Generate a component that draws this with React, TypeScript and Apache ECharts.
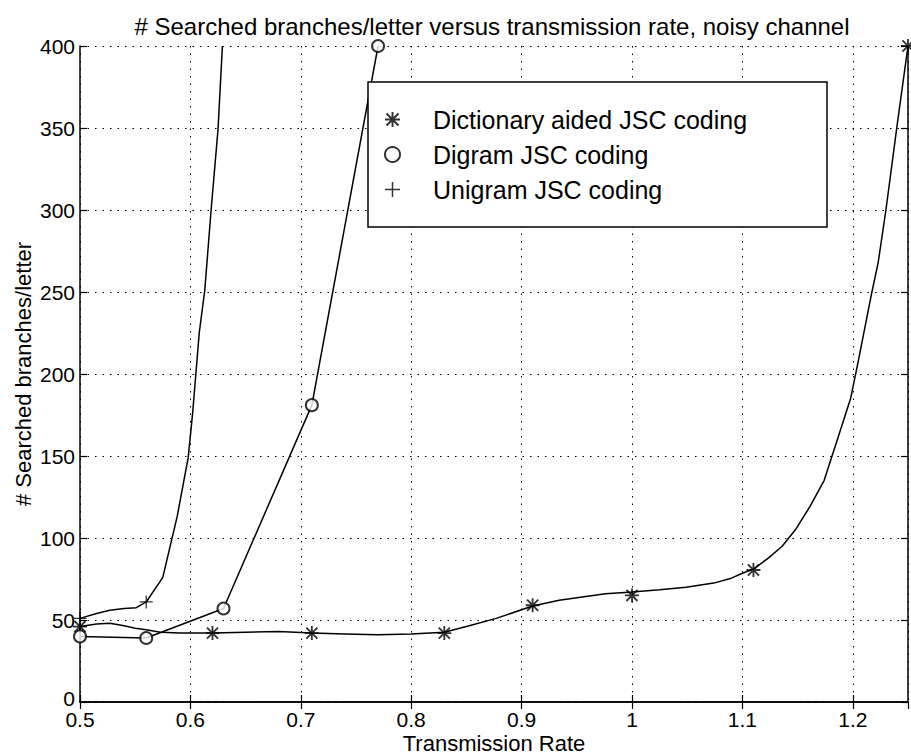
import React, { useEffect, useRef } from "react";
import * as echarts from "echarts";

const FONT = '"Liberation Sans", Arial, Helvetica, sans-serif';

// Measured points (markers) for each coding scheme
const dictRate = [0.5, 0.62, 0.71, 0.83, 0.91, 1.0, 1.11, 1.25];
const dictBranches = [46, 42, 42, 42, 59, 65, 80.5, 400];

const digramRate = [0.5, 0.56, 0.63, 0.71, 0.77];
const digramBranches = [40, 39, 57, 181, 400];

const unigramRate = [0.5, 0.56];
const unigramBranches = [51, 61];

// Fitted curves drawn through the measurements
const dictCurveRate = [
  0.5, 0.515, 0.527, 0.54, 0.55, 0.56, 0.573, 0.59, 0.62, 0.65, 0.68, 0.71,
  0.74, 0.77, 0.8, 0.83, 0.85, 0.877, 0.91, 0.934, 0.955, 0.976, 1.0, 1.025,
  1.049, 1.074, 1.09, 1.1, 1.11, 1.124, 1.136, 1.148, 1.161, 1.174, 1.187,
  1.198, 1.205, 1.217, 1.223, 1.23, 1.24, 1.25,
];
const dictCurveBranches = [
  46, 47.5, 48, 46.5, 45, 44, 42.5, 42, 42, 42.5, 43, 42, 41.5, 41, 41.5,
  42.5, 46, 51, 58.5, 62, 64, 66, 67, 68.5, 70, 72.5, 75.5, 78.5, 81, 88, 95,
  105, 119, 135, 162, 185, 208, 249, 268, 300, 351, 400,
];

const unigramCurveRate = [
  0.5, 0.515, 0.527, 0.54, 0.551, 0.56, 0.575, 0.588, 0.598, 0.602, 0.608,
  0.613, 0.619, 0.625, 0.629,
];
const unigramCurveBranches = [
  51, 54, 56, 57, 57.5, 61, 76, 113, 149, 176, 225, 251, 302, 349, 400,
];

const xTicks = { min: 0.5, max: 1.25, interval: 0.1 };
const yTicks = { min: 0, max: 400, interval: 50 };

const NAMES = [
  "Dictionary aided JSC coding",
  "Digram JSC coding",
  "Unigram JSC coding",
];

// Marker glyphs (filled outlines so they render as solid strokes)
const ASTERISK =
  "path://M8.7,0H11.3V20H8.7Z M0,8.7H20V11.3H0Z M1.1,3L3,1.1L18.9,17L17,18.9Z M17,1.1L18.9,3L3,18.9L1.1,17Z";
const PLUS = "path://M9,0H11V9H20V11H11V20H9V11H0V9H9Z";

const zip = (xs: number[], ys: number[]) => xs.map((x, i) => [x, ys[i]]);

export default function App() {
  const ref = useRef<HTMLDivElement>(null);

  useEffect(() => {
    if (!ref.current) return;
    const chart = echarts.init(ref.current, undefined, { renderer: "svg" });

    const axisLine = { show: true, lineStyle: { color: "#000", width: 1.5 } };
    const tick = { show: true, inside: true, length: 7, lineStyle: { color: "#000", width: 1.2 } };
    const grid = {
      show: true,
      lineStyle: { color: "#000", width: 1, type: [1.5, 6] as any },
    };
    const labelStyle = { color: "#000", fontSize: 21, fontFamily: FONT };
    const nameStyle = { color: "#000", fontSize: 22, fontFamily: FONT };

    chart.setOption({
      animation: false,
      backgroundColor: "#fff",
      title: {
        text: "# Searched branches/letter versus transmission rate, noisy channel",
        left: 487,
        top: 9,
        textAlign: "center",
        textStyle: { color: "#000", fontSize: 24, fontWeight: "normal", fontFamily: FONT },
      },
      grid: { left: 80, right: 3, top: 46, bottom: 53, outerBoundsMode: "none" },
      xAxis: [
        {
          type: "value",
          ...xTicks,
          name: "Transmission Rate",
          nameLocation: "middle",
          nameGap: 30,
          nameMoveOverlap: false,
          nameTextStyle: nameStyle,
          axisLine,
          axisTick: tick,
          axisLabel: { ...labelStyle, margin: 8, lineHeight: 18, showMaxLabel: false },
          splitLine: grid,
        },
        {
          type: "value",
          ...xTicks,
          position: "top",
          axisLine,
          axisTick: tick,
          axisLabel: { show: false },
          splitLine: { show: false },
        },
      ],
      yAxis: [
        {
          type: "value",
          ...yTicks,
          name: "# Searched branches/letter",
          nameLocation: "middle",
          nameGap: 46,
          nameMoveOverlap: false,
          nameTextStyle: nameStyle,
          axisLine,
          axisTick: tick,
          axisLabel: {
            ...labelStyle,
            margin: 5,
            lineHeight: 18,
            formatter: (v: number) => (v === 0 ? "{lift|0}" : String(v)),
            rich: { lift: { ...labelStyle, lineHeight: 18, padding: [0, 0, 8, 0] } },
          },
          splitLine: grid,
        },
        {
          type: "value",
          ...yTicks,
          position: "right",
          axisLine,
          axisTick: tick,
          axisLabel: { show: false },
          splitLine: { show: false },
        },
      ],
      legend: {
        data: [
          { name: NAMES[0], icon: ASTERISK },
          { name: NAMES[1], icon: "emptyCircle" },
          { name: NAMES[2], icon: PLUS },
        ],
        orient: "vertical",
        left: 384,
        top: 107,
        padding: 0,
        itemWidth: 15,
        itemHeight: 15,
        itemGap: 10,
        selectedMode: false,
        z: 10,
        textStyle: { color: "#000", fontSize: 25, fontFamily: FONT, padding: [0, 0, 0, 28] },
      },
      graphic: [
        {
          type: "rect",
          z: 5,
          shape: { x: 368, y: 82, width: 459, height: 145 },
          style: { fill: "#fff", stroke: "#000", lineWidth: 1.5 },
        },
      ],
      series: [
        {
          name: NAMES[0],
          type: "scatter",
          data: zip(dictRate, dictBranches),
          symbol: ASTERISK,
          symbolSize: 14,
          clip: false,
          itemStyle: { color: "#000" },
          z: 3,
        },
        {
          name: NAMES[1],
          type: "scatter",
          data: zip(digramRate, digramBranches),
          symbol: "emptyCircle",
          symbolSize: 12,
          clip: false,
          itemStyle: { color: "#000", borderWidth: 1.6 },
          z: 3,
        },
        {
          name: NAMES[2],
          type: "scatter",
          data: zip(unigramRate, unigramBranches),
          symbol: PLUS,
          symbolSize: 13,
          clip: false,
          itemStyle: { color: "#000" },
          z: 3,
        },
        {
          name: "dictionary curve",
          type: "line",
          data: zip(dictCurveRate, dictCurveBranches),
          showSymbol: false,
          lineStyle: { color: "#000", width: 1.5 },
          z: 2,
        },
        {
          name: "digram curve",
          type: "line",
          data: zip(digramRate, digramBranches),
          showSymbol: false,
          lineStyle: { color: "#000", width: 1.5 },
          z: 2,
        },
        {
          name: "unigram curve",
          type: "line",
          data: zip(unigramCurveRate, unigramCurveBranches),
          showSymbol: false,
          lineStyle: { color: "#000", width: 1.5 },
          z: 2,
        },
      ],
    });

    return () => chart.dispose();
  }, []);

  return (
    <div
      ref={ref}
      style={{ position: "fixed", left: 0, top: 0, width: 911, height: 755 }}
    />
  );
}
